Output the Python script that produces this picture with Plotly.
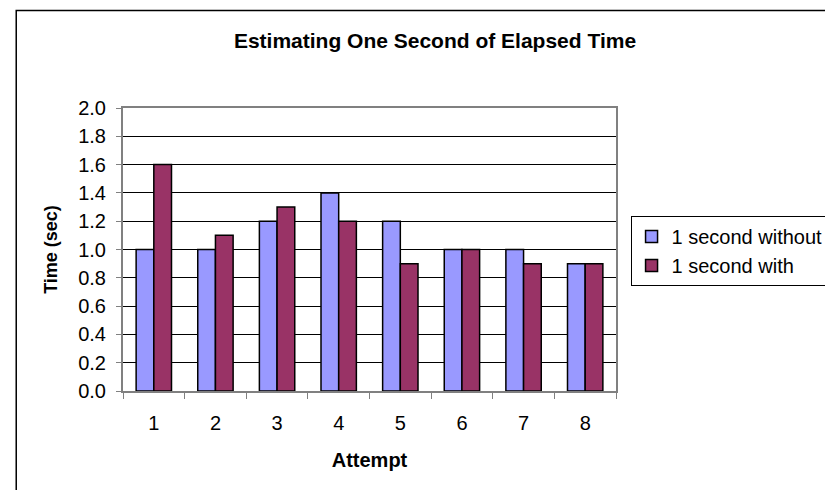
import plotly.graph_objects as go

attempts = ["1", "2", "3", "4", "5", "6", "7", "8"]
without_vals = [1.0, 1.0, 1.2, 1.4, 1.2, 1.0, 1.0, 0.9]
with_vals = [1.6, 1.1, 1.3, 1.2, 0.9, 1.0, 0.9, 0.9]
y_ticks = [0.0, 0.2, 0.4, 0.6, 0.8, 1.0, 1.2, 1.4, 1.6, 1.8, 2.0]

FONT = "Arial, Liberation Sans, sans-serif"
W, H = 833, 490
L, R, T, B = 115, 217, 100, 107
pw, ph = W - L - R, H - T - B

def px_x(x):
    return (x - L) / pw

def px_y(y):
    return (H - B - y) / ph

fig = go.Figure()
fig.add_trace(go.Bar(x=attempts, y=without_vals, name="1 second without",
                     marker=dict(color="#9999FF", line=dict(color="black", width=1.5)),
                     legendgroup="a"))
fig.add_trace(go.Bar(x=attempts, y=with_vals, name="1 second with",
                     marker=dict(color="#993366", line=dict(color="black", width=1.5)),
                     legendgroup="b"))

fig.update_layout(
    width=W, height=H,
    margin=dict(l=L, r=R, t=T, b=B, pad=0),
    paper_bgcolor="white", plot_bgcolor="white",
    font=dict(family=FONT, size=20, color="black"),
    barmode="group", bargap=0.426, bargroupgap=0,
    title=dict(text="<b>Estimating One Second of Elapsed Time</b>",
               x=427 / W, xanchor="center", xref="container",
               y=1 - 33 / H, yanchor="middle", yref="container",
               font=dict(family=FONT, size=21, color="black")),
    legend=dict(x=px_x(832), xanchor="right", y=px_y(208), yanchor="top",
                bordercolor="black", borderwidth=1, bgcolor="white",
                font=dict(family=FONT, size=20, color="black"),
                traceorder="grouped", tracegroupgap=0, itemwidth=30),
    showlegend=True,
)
fig.update_xaxes(type="category", tickson="boundaries", ticks="outside", ticklen=6,
                 tickcolor="#808080", tickwidth=1, showgrid=False,
                 showline=True, linecolor="#808080", linewidth=2, mirror=True,
                 ticklabelstandoff=13,
                 title=dict(text="<b>Attempt</b>", standoff=20,
                            font=dict(family=FONT, size=20, color="black")))
fig.update_yaxes(range=[0, 2], tickvals=y_ticks, tickformat=".1f",
                 ticks="outside", ticklen=5, tickcolor="#808080", tickwidth=1,
                 showgrid=True, gridcolor="black", gridwidth=1,
                 showline=True, linecolor="#808080", linewidth=2, mirror=True,
                 zeroline=False, ticklabelstandoff=6,
                 title=dict(text="<b>Time (sec)</b>", standoff=16,
                            font=dict(family=FONT, size=18, color="black")))

fig.add_shape(type="rect", xref="paper", yref="paper",
              x0=px_x(6.5), x1=px_x(900), y0=px_y(560), y1=px_y(2.5),
              line=dict(color="black", width=1.5), fillcolor="rgba(0,0,0,0)", layer="above")

fig.write_html("out.html")
